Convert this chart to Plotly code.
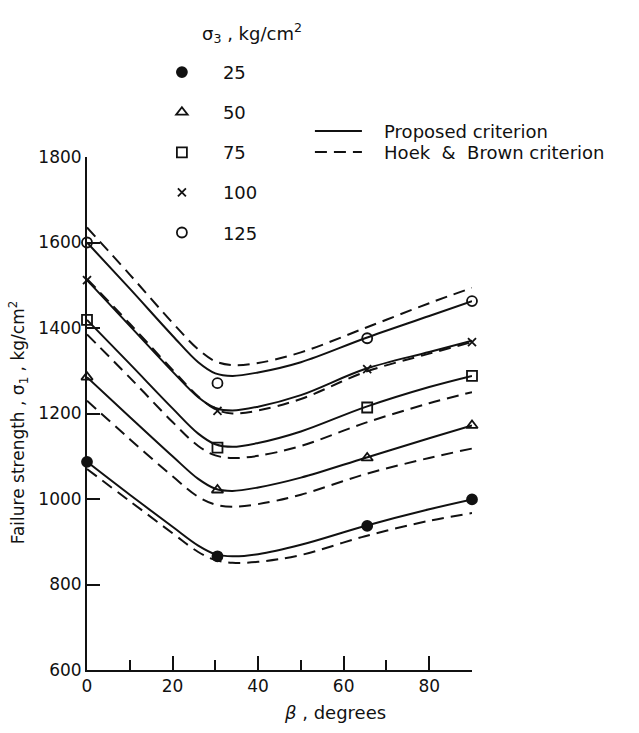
import plotly.graph_objects as go

# ---------------- data ----------------
sigma3 = [25, 50, 75, 100, 125]
symbols = ["circle", "triangle-up-open", "square-open", "x-thin-open", "circle-open"]

beta_pts = [0, 30.5, 65.5, 90]
pts = {
    25: [1087, 866, 937, 999],
    50: [1285, 1021, 1096, 1172],
    75: [1419, 1120, 1214, 1288],
    100: [1512, 1206, 1304, 1367],
    125: [1600, 1271, 1376, 1463],
}

beta_curve = [0, 10, 20, 26, 30, 34, 40, 50, 65, 80, 90]
proposed = {
    25: [1087, 1010, 935, 891, 871, 866, 871, 893, 937, 976, 999],
    50: [1285, 1192, 1100, 1047, 1024, 1019, 1027, 1050, 1096, 1142, 1172],
    75: [1419, 1316, 1212, 1153, 1128, 1122, 1131, 1158, 1215, 1262, 1288],
    100: [1512, 1405, 1298, 1238, 1213, 1207, 1216, 1243, 1304, 1344, 1370],
    125: [1600, 1492, 1382, 1320, 1294, 1288, 1296, 1320, 1376, 1428, 1463],
}
hoek_brown = {
    25: [1070, 995, 920, 876, 857, 851, 853, 869, 913, 949, 967],
    50: [1230, 1140, 1053, 1005, 987, 982, 988, 1010, 1058, 1096, 1118],
    75: [1385, 1284, 1180, 1124, 1102, 1096, 1101, 1124, 1178, 1224, 1250],
    100: [1515, 1410, 1302, 1240, 1210, 1200, 1207, 1234, 1297, 1340, 1367],
    125: [1635, 1525, 1412, 1350, 1322, 1313, 1318, 1343, 1400, 1458, 1494],
}

x_ticks = [0, 20, 40, 60, 80]
y_ticks = [600, 800, 1000, 1200, 1400, 1600, 1800]

# ---------------- figure ----------------
INK = "#111111"
FONT = "DejaVu Sans"
DASH = "12px,7px"

fig = go.Figure()

for i, s in enumerate(sigma3):
    fig.add_trace(go.Scatter(
        x=beta_curve, y=proposed[s], mode="lines", line_shape="spline",
        line=dict(color=INK, width=2),
        name="\u00a0\u00a0\u00a0Proposed criterion", legend="legend2",
        showlegend=(i == 0), hoverinfo="skip"))
for i, s in enumerate(sigma3):
    fig.add_trace(go.Scatter(
        x=beta_curve, y=hoek_brown[s], mode="lines", line_shape="spline",
        line=dict(color=INK, width=2, dash=DASH),
        name="\u00a0\u00a0\u00a0Hoek  &  Brown criterion", legend="legend3",
        showlegend=(i == 0), hoverinfo="skip"))
for s, sym in zip(sigma3, symbols):
    fig.add_trace(go.Scatter(
        x=beta_pts, y=pts[s], mode="markers", name=str(s),
        legendgroup=str(s), legend="legend", cliponaxis=False,
        marker=dict(symbol=sym, size=10 if sym != "x-thin-open" else 8,
                    color=INK, line=dict(color=INK, width=1.8))))

line_legend = dict(xanchor="left", yanchor="top", bgcolor="rgba(0,0,0,0)",
                   itemwidth=47, font=dict(family=FONT, size=18, color=INK))

fig.update_layout(
    width=639, height=733,
    margin=dict(l=87, r=167, t=157, b=63),
    paper_bgcolor="white", plot_bgcolor="white",
    font=dict(family=FONT, size=17, color=INK),
    legend=dict(x=0.14, y=1.201, xanchor="left", yanchor="top",
                bgcolor="rgba(0,0,0,0)", itemwidth=72,
                traceorder="grouped", tracegroupgap=13.7,
                font=dict(family=FONT, size=18, color=INK)),
    legend2=dict(x=0.579, y=1.086, **line_legend),
    legend3=dict(x=0.579, y=1.045, **line_legend),
    xaxis=dict(range=[0, 90], showline=True, linecolor=INK, linewidth=2,
               showgrid=False, zeroline=False, ticks="inside", ticklen=14,
               tickwidth=2, tickcolor=INK, tickvals=x_ticks,
               ticktext=[str(v) for v in x_ticks],
               minor=dict(ticks="inside", ticklen=10, tickwidth=2,
                          tickcolor=INK, dtick=10, tick0=0, showgrid=False),
               tickfont=dict(family=FONT, size=17, color=INK)),
    yaxis=dict(range=[600, 1800], showline=True, linecolor=INK, linewidth=2,
               showgrid=False, zeroline=False, ticks="inside", ticklen=13,
               tickwidth=2, tickcolor=INK, tickvals=y_ticks,
               ticktext=[str(v) for v in y_ticks],
               tickfont=dict(family=FONT, size=17, color=INK)),
    annotations=[
        dict(text="σ<sub>3</sub> , kg/cm<sup>2</sup>", xref="paper", yref="paper",
             x=0.2935, y=1.2417, xanchor="left", yanchor="middle",
             showarrow=False, font=dict(family=FONT, size=18, color=INK)),
        dict(text="<i>β</i> , degrees", xref="paper", yref="paper",
             x=0.644, y=-0.0838, xanchor="center", yanchor="middle",
             showarrow=False, font=dict(family=FONT, size=18, color=INK)),
        dict(text="Failure strength , σ<sub>1</sub> , kg/cm<sup>2</sup>",
             xref="paper", yref="paper", x=-0.179, y=0.483, textangle=-90,
             xanchor="center", yanchor="middle", showarrow=False,
             font=dict(family=FONT, size=17, color=INK)),
    ],
)

fig.write_html("out.html")
